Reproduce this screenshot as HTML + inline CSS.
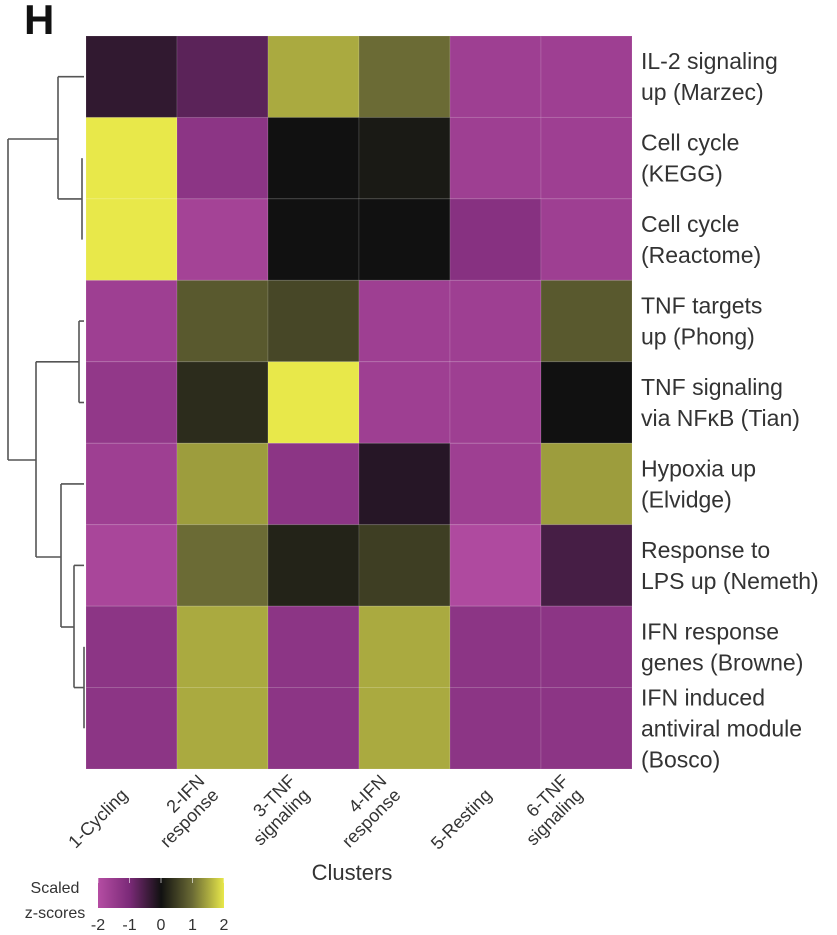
<!DOCTYPE html>
<html><head><meta charset="utf-8"><style>
html,body{margin:0;padding:0;background:#fff;}
svg{display:block;font-family:"Liberation Sans",sans-serif;}
</style></head><body>
<svg id="chart" width="837" height="935" viewBox="0 0 837 935" xmlns="http://www.w3.org/2000/svg">
<text x="24" y="34" font-size="42" font-weight="bold" fill="#111">H</text>
<g id="cells"></g>
<g id="dendro" stroke="#555" stroke-width="1.6" fill="none"></g>
<g id="rowlabels" font-size="23" fill="#333"></g>
<g id="collabels" font-size="18" fill="#333"></g>
<text x="352" y="880" font-size="22" fill="#333" text-anchor="middle">Clusters</text>
<g>
<defs><linearGradient id="cg" x1="0" x2="1" y1="0" y2="0">
<stop offset="0" stop-color="#b54da3"/><stop offset="0.25" stop-color="#7b2a78"/><stop offset="0.5" stop-color="#111"/><stop offset="0.75" stop-color="#6b6b35"/><stop offset="1" stop-color="#e8e84a"/></linearGradient></defs>
<text x="55" y="893" font-size="16" fill="#333" text-anchor="middle">Scaled</text>
<text x="55" y="918" font-size="16" fill="#333" text-anchor="middle">z-scores</text>
<rect x="98" y="878" width="126" height="30" fill="url(#cg)"/>
<g id="legticks" font-size="16" fill="#333" text-anchor="middle"></g>
</g>
</svg>
<script>
const clusters = ["1-Cycling","2-IFN|response","3-TNF|signaling","4-IFN|response","5-Resting","6-TNF|signaling"];
const pathways = ["IL-2 signaling|up (Marzec)","Cell cycle|(KEGG)","Cell cycle|(Reactome)","TNF targets|up (Phong)","TNF signaling|via NFκB (Tian)","Hypoxia up|(Elvidge)","Response to|LPS up (Nemeth)","IFN response|genes (Browne)","IFN induced|antiviral module|(Bosco)"];
const zIL2 = [-0.3,-0.7,1.5,1.0,-1.6,-1.6];
const zCCkegg = [2.0,-1.3,0.0,0.1,-1.6,-1.6];
const zCCreact = [2.1,-1.7,0.0,0.0,-1.2,-1.6];
const zTNFphong = [-1.6,0.8,0.6,-1.6,-1.6,0.8];
const zTNFtian = [-1.4,0.3,2.1,-1.6,-1.6,0.0];
const zHypoxia = [-1.6,1.4,-1.3,-0.2,-1.6,1.4];
const zLPS = [-1.8,1.0,0.2,0.5,-1.9,-0.5];
const zIFNbrowne = [-1.3,1.5,-1.3,1.5,-1.3,-1.3];
const zIFNbosco = [-1.3,1.5,-1.3,1.5,-1.3,-1.3];
const matrix = [zIL2,zCCkegg,zCCreact,zTNFphong,zTNFtian,zHypoxia,zLPS,zIFNbrowne,zIFNbosco];
const legendTicks = [-2,-1,0,1,2];

const NS="http://www.w3.org/2000/svg";
const X0=86,X1=632,Y0=36,Y1=769;
const cw=(X1-X0)/clusters.length, rh=(Y1-Y0)/pathways.length;
const xPos=i=>X0+i*cw, yPos=j=>Y0+j*rh;
const stops=[[-2,[181,77,163]],[-1,[123,42,120]],[0,[17,17,17]],[1,[107,107,53]],[2,[232,232,74]]];
function color(v){v=Math.max(-2,Math.min(2,v));for(let k=0;k<stops.length-1;k++){const a=stops[k],b=stops[k+1];if(v<=b[0]){const t=(v-a[0])/(b[0]-a[0]);const c=a[1].map((x,i)=>Math.round(x+(b[1][i]-x)*t));return `rgb(${c})`;}}return "rgb(232,232,74)";}
function mk(tag,attrs,parent){const e=document.createElementNS(NS,tag);for(const k in attrs)e.setAttribute(k,attrs[k]);parent.appendChild(e);return e;}

const cells=document.getElementById('cells');
matrix.forEach((row,j)=>row.forEach((v,i)=>{
  const r=mk('rect',{x:xPos(i),y:yPos(j),width:cw,height:rh,fill:color(v),stroke:'rgba(255,255,255,0.12)','stroke-width':1},cells);
  
  
}));

const rl=document.getElementById('rowlabels');
pathways.forEach((p,j)=>{
  const lines=p.split('|');const lh=31;const cy=yPos(j)+rh/2;
  lines.forEach((ln,k)=>{
    const t=mk('text',{x:641,y:cy-(lines.length-1)*lh/2+k*lh+8},rl);
    t.textContent=ln;
    
    
  });
});

const cl=document.getElementById('collabels');
clusters.forEach((c,i)=>{
  const lines=c.split('|');const ax=xPos(i)+cw/2-12, ay=Y1+18;
  const g=mk('g',{transform:`translate(${ax},${ay}) rotate(-45)`},cl);
  
  
  lines.forEach((ln,k)=>{
    const t=mk('text',{x:0,y:(k-(lines.length-1))*20+13,'text-anchor':'end'},g);
    t.textContent=ln;
  });
});

const lt=document.getElementById('legticks');
legendTicks.forEach(v=>{
  const x=98+(v+2)/4*126;
  const t=mk('text',{x:x,y:930},lt);t.textContent=v;
  
  
  const l=mk('line',{x1:x,x2:x,y1:878,y2:883,stroke:'#fff','stroke-opacity':0.6},lt);
  
  
});

const dd=document.getElementById('dendro');
const rc=j=>yPos(j)+rh/2;
const segs=[
 [[58,rc(0)],[84,rc(0)]],
 [[58,rc(0)],[58,(rc(1)+rc(2))/2]],
 [[58,(rc(1)+rc(2))/2],[82,(rc(1)+rc(2))/2]],
 [[82,rc(1)],[82,rc(2)]],
 [[8,139],[58,139]],
 [[8,139],[8,460]],
 [[8,460],[36,460]],
 [[36,(rc(3)+rc(4))/2],[36,557]],
 [[36,(rc(3)+rc(4))/2],[79,(rc(3)+rc(4))/2]],
 [[79,rc(3)],[79,rc(4)]],
 [[79,rc(3)],[84,rc(3)]],[[79,rc(4)],[84,rc(4)]],
 [[36,557],[61,557]],
 [[61,rc(5)],[61,627]],[[61,rc(5)],[84,rc(5)]],
 [[61,627],[74,627]],
 [[74,rc(6)],[74,(rc(7)+rc(8))/2]],[[74,rc(6)],[84,rc(6)]],
 [[74,(rc(7)+rc(8))/2],[84,(rc(7)+rc(8))/2]],
 [[84,rc(7)],[84,rc(8)]]
];
segs.forEach(s=>{
  const l=mk('line',{x1:s[0][0],y1:s[0][1],x2:s[1][0],y2:s[1][1]},dd);
  
  
});
</script>
</body></html>
